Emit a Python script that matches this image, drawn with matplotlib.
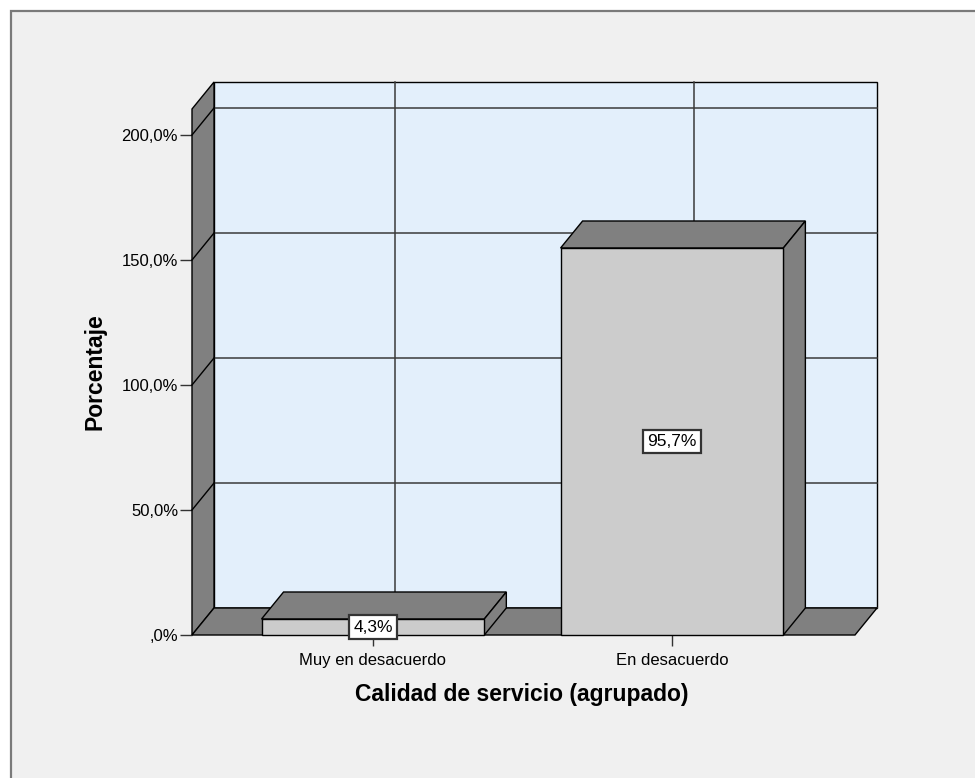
import matplotlib
matplotlib.use("Agg")
import matplotlib.pyplot as plt
from matplotlib.patches import Polygon, Rectangle

plt.rcParams["font.family"] = ["Liberation Sans", "DejaVu Sans"]

# data
categories = ["Muy en desacuerdo", "En desacuerdo"]
bar_heights = [6.4, 154.8]          # drawn height on the % axis
bar_labels = ["4,3%", "95,7%"]
yticks = [0, 50, 100, 150, 200]
yticklabels = [",0%", "50,0%", "100,0%", "150,0%", "200,0%"]

# 3d look
dx, dy = 0.0736, 10.8
xl, xr = -0.605, 1.612
ytop = 221.2
bw = 0.745

wall_blue = "#e3effb"
dark = "#808080"
front = "#cccccc"
gridc = "#3a3a3a"

fig = plt.figure(figsize=(9.75, 7.78), dpi=100)
fig.patch.set_facecolor("white")
fig.patches.append(Rectangle((11 / 975, -0.05), 1.0, (778 - 11) / 778 + 0.05,
                             transform=fig.transFigure, facecolor="#f0f0f0",
                             edgecolor="#7a7a7a", lw=1.6, zorder=-10))

ax = fig.add_axes([192 / 975, (778 - 635) / 778, (877 - 192) / 975, (635 - 82) / 778])
ax.set_facecolor("none")
ax.set_xlim(xl, xr + dx)
ax.set_ylim(0, ytop)
for s in ax.spines.values():
    s.set_visible(False)


def poly(pts, fc, z):
    ax.add_patch(Polygon(pts, closed=True, facecolor=fc, edgecolor="black", lw=1,
                         zorder=z, clip_on=False))


# back wall
poly([(xl + dx, dy), (xr + dx, dy), (xr + dx, ytop), (xl + dx, ytop)], wall_blue, 1)
# grid on back wall
for v in yticks:
    ax.plot([xl + dx, xr + dx], [v + dy, v + dy], color=gridc, lw=1.1, zorder=2, clip_on=False)
for i in range(len(categories)):
    ax.plot([i + dx, i + dx], [dy, ytop], color=gridc, lw=1.1, zorder=2, clip_on=False)

# left wall
poly([(xl, 0), (xl + dx, dy), (xl + dx, ytop), (xl, ytop - dy)], dark, 3)
for v in yticks[1:]:
    ax.plot([xl, xl + dx], [v, v + dy], color="black", lw=1, zorder=3.5, clip_on=False)
# floor
poly([(xl, 0), (xr, 0), (xr + dx, dy), (xl + dx, dy)], dark, 3)

# bars
for i, h in enumerate(bar_heights):
    x0, x1 = i - bw / 2, i + bw / 2
    poly([(x0, h), (x1, h), (x1 + dx, h + dy), (x0 + dx, h + dy)], dark, 4)
    poly([(x1, 0), (x1 + dx, dy), (x1 + dx, h + dy), (x1, h)], dark, 4)
    poly([(x0, 0), (x1, 0), (x1, h), (x0, h)], front, 5)
    ax.text(i, h / 2, bar_labels[i], ha="center", va="center", fontsize=12.5, zorder=10,
            bbox=dict(boxstyle="square,pad=0.25", facecolor="white", edgecolor="#333333", lw=1.6))

ax.set_yticks(yticks)
ax.set_yticklabels(yticklabels)
ax.set_xticks(range(len(categories)))
ax.set_xticklabels(categories)
ax.tick_params(axis="y", direction="out", length=8.5, width=1, pad=1.5, labelsize=12,
               color="#333333")
ax.tick_params(axis="x", direction="out", length=8, width=1, pad=5, labelsize=12,
               color="#333333")

fig.text(95 / 975, 1 - 372 / 778, "Porcentaje", rotation=90, ha="center", va="center",
         fontsize=16.5, fontweight="bold")
fig.text(522 / 975, 1 - 694 / 778, "Calidad de servicio (agrupado)", ha="center",
         va="center", fontsize=16.5, fontweight="bold")

fig.savefig("out.png", dpi=100)
